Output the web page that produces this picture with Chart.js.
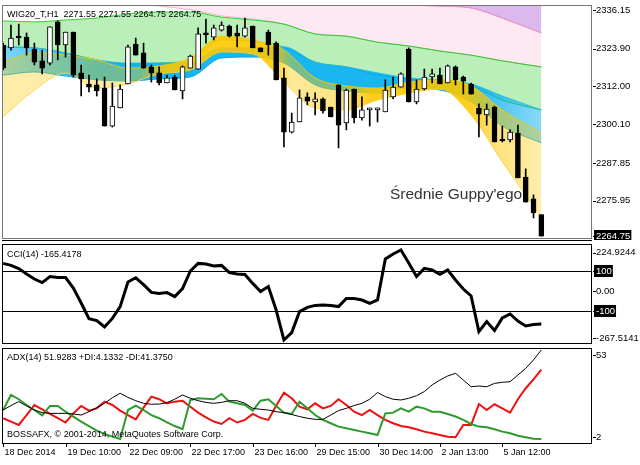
<!DOCTYPE html>
<html>
<head>
<meta charset="utf-8">
<script src="https://cdn.jsdelivr.net/npm/chart.js@4.4.0/dist/chart.umd.min.js"></script>
<style>
  html, body { margin: 0; padding: 0; background: #fff; }
  #wrap { position: relative; width: 640px; height: 465px; overflow: hidden; background: #fff; }
  canvas { position: absolute; left: 0; }
</style>
</head>
<body>
<div id="wrap">
  <canvas id="mainChart" width="640" height="240" style="top:0px"></canvas>
  <canvas id="cciChart" width="640" height="105" style="top:240px"></canvas>
  <canvas id="adxChart" width="640" height="120" style="top:345px"></canvas>
</div>
<script>
// WIG20_T H1, 18 Dec 2014 - 5 Jan 2015 (one value per hourly bar)
const opens  = [2325.1,2324.2,2327.9,2327.6,2323.8,2320.1,2319.4,2332.4,2325.1,2329.2,2316.3,2312.8,2312.5,2311.5,2299.5,2305.2,2312.8,2325.4,2322.6,2318.2,2316.3,2313.1,2315.0,2310.6,2317.8,2317.5,2328.9,2327.6,2329.8,2331.1,2328.9,2327.9,2331.1,2324.2,2329.2,2325.7,2314.7,2297.6,2300.8,2308.7,2307.1,2308.1,2305.5,2312.5,2300.5,2311.2,2302.1,2304.6,2304.6,2304.0,2308.7,2311.8,2323.8,2307.1,2311.2,2315.0,2315.6,2313.1,2318.2,2315.0,2312.8,2305.2,2303.0,2305.5,2295.1,2295.1,2297.3,2283.4,2276.5,2271.55];
const highs  = [2325.7,2331.4,2331.7,2328.9,2325.7,2323.5,2330.8,2332.7,2329.2,2329.2,2318.8,2315.6,2314.4,2315.0,2313.1,2312.5,2325.1,2327.3,2325.7,2318.8,2318.2,2315.6,2315.6,2318.5,2321.9,2330.5,2333.3,2331.4,2332.4,2331.4,2331.4,2333.6,2331.1,2324.2,2329.8,2326.1,2317.8,2303.6,2310.9,2310.0,2310.0,2308.4,2305.5,2312.5,2311.2,2311.2,2308.7,2305.2,2305.2,2314.1,2315.0,2316.3,2324.2,2314.1,2317.5,2317.5,2317.8,2318.8,2318.5,2315.3,2313.1,2306.5,2306.5,2305.8,2299.5,2298.3,2299.8,2286.0,2277.8,2271.55];
const lows   = [2317.2,2323.5,2325.1,2321.9,2318.8,2316.0,2318.8,2320.4,2321.3,2315.0,2309.0,2310.3,2309.0,2299.5,2299.2,2305.2,2312.8,2321.9,2317.8,2313.4,2312.5,2313.1,2310.9,2308.1,2317.8,2317.5,2325.7,2326.7,2329.5,2327.6,2324.5,2327.6,2324.2,2322.9,2321.9,2314.1,2292.9,2297.3,2300.8,2306.2,2303.0,2303.6,2302.4,2292.6,2298.3,2300.5,2301.4,2299.5,2300.8,2304.0,2308.1,2311.8,2307.1,2306.5,2310.9,2313.1,2312.8,2313.1,2312.5,2309.6,2309.6,2296.1,2299.8,2294.5,2294.5,2294.5,2283.1,2275.5,2270.5,2264.75];
const closes = [2317.8,2327.3,2327.3,2324.2,2319.7,2317.8,2330.8,2325.1,2329.2,2315.6,2314.4,2311.8,2310.6,2299.5,2305.8,2311.2,2324.5,2321.9,2317.8,2316.3,2313.1,2314.7,2310.9,2318.2,2321.6,2328.6,2328.3,2330.5,2331.4,2327.9,2327.9,2330.5,2324.2,2322.9,2325.1,2314.1,2297.6,2300.8,2308.4,2307.4,2308.1,2304.3,2302.4,2299.8,2310.9,2302.1,2304.6,2305.2,2305.2,2310.9,2311.8,2316.0,2307.1,2311.2,2315.0,2316.0,2312.8,2318.5,2314.1,2313.7,2309.6,2303.3,2304.9,2294.5,2294.8,2297.6,2283.1,2275.5,2272.1,2264.75];

// Guppy bands: edges of each colour group, read at these bars
const guppyX       = [0,4,8,12,16,20,24,28,32,36,40,44,48,52,56,60,64,69];
const yellowTop    = [2319.7,2322.6,2321.9,2320.4,2317.8,2318.5,2321.0,2327.9,2326.7,2323.5,2314.7,2312.2,2311.5,2313.4,2314.1,2312.2,2304.6,2297.3];
const yellowBottom = [2302.4,2310.9,2316.3,2311.5,2312.8,2316.0,2317.2,2322.9,2322.3,2313.4,2305.2,2304.6,2307.7,2309.9,2311.2,2303.0,2288.2,2270.8];
const cyanTop      = [2324.5,2324.2,2322.6,2320.4,2319.4,2319.4,2319.7,2324.2,2324.2,2324.5,2319.7,2318.2,2316.3,2314.7,2314.1,2312.8,2309.0,2304.6];
const cyanBottom   = [2315.6,2316.6,2315.3,2314.1,2313.7,2314.4,2315.0,2321.0,2321.3,2319.4,2312.5,2310.6,2309.9,2311.5,2310.9,2307.1,2299.5,2294.2];
const greenTop     = [2332.7,2332.4,2333.0,2333.6,2334.9,2335.5,2335.5,2333.9,2333.0,2331.7,2328.6,2327.9,2326.0,2324.8,2323.2,2321.9,2320.1,2318.2];
const greenBottom  = [2324.5,2324.2,2322.6,2320.4,2319.1,2319.4,2320.4,2326.7,2326.1,2324.5,2319.7,2318.2,2315.6,2314.4,2313.7,2312.2,2307.7,2304.6];
const pinkTop      = [2348.8,2348.8,2348.8,2348.8,2348.8,2347.2,2345.6,2345.6,2344.0,2344.0,2342.5,2342.5,2340.9,2338.0,2337.4,2336.8,2333.6,2328.9];
const pinkBottom   = [2339.3,2339.3,2339.0,2338.7,2338.0,2337.4,2336.2,2334.3,2333.3,2331.7,2328.6,2327.9,2326.0,2324.8,2323.2,2321.9,2320.1,2318.2];

const cci = [138,128,112,85,60,42,72,67,67,15,-60,-138,-148,-180,-137,-78,45,66,32,-7,-12,-8,-28,12,100,138,135,125,128,92,85,83,38,-3,22,-95,-245,-208,-103,-82,-72,-70,-72,-78,-37,-38,-45,-62,-45,160,185,205,140,72,113,105,83,105,55,10,-25,-203,-153,-198,-135,-115,-150,-175,-168,-165.4178];
const cciLevels = [100, -100];

const adx     = [19.7,22.1,24.2,21.9,19.7,18.3,17.9,17.9,17.9,17.6,17.0,18.8,21.0,23.3,26.3,28.7,26.5,24.7,23.3,22.8,22.9,23.7,25.5,27.8,26.0,24.7,23.8,23.3,23.8,24.7,24.7,23.3,20.6,20.1,19.7,18.8,18.3,17.3,16.2,15.3,14.7,14.7,17.0,19.4,20.6,22.1,23.3,25.5,29.1,26.9,25.5,25.1,26.0,27.4,29.6,33.2,35.8,38.0,39.4,35.8,32.2,32.6,32.2,34.0,34.6,34.9,38.5,42.1,46.6,51.9283];
const plusDI  = [19.7,27.8,25.5,22.4,19.7,16.8,21.9,21.9,18.8,16.2,13.5,11.1,8.6,6.9,5.4,4.2,19.7,22.1,19.7,17.0,15.3,13.1,11.1,9.4,25.1,26.0,25.8,25.5,28.3,24.2,23.3,22.4,19.4,24.7,25.5,21.9,18.3,17.6,24.2,20.6,17.0,14.4,12.6,10.8,9.9,9.0,8.1,7.2,6.3,17.9,18.3,20.6,18.8,21.5,20.6,18.8,18.8,17.6,16.2,14.4,12.2,10.8,10.4,9.4,8.1,7.2,5.9,5.1,4.3,4.1332];
const minusDI = [15.3,13.5,11.7,17.0,22.4,20.1,17.6,15.3,13.0,17.9,21.9,19.4,20.6,24.2,22.4,19.4,17.0,14.7,21.0,26.9,25.5,23.3,24.2,24.7,21.5,18.3,15.8,13.5,12.2,15.3,13.0,14.4,17.6,15.5,14.4,22.0,29.0,26.0,21.5,20.1,23.3,20.6,21.9,25.5,22.4,18.8,17.0,19.7,17.0,14.4,12.6,11.1,10.4,9.4,8.1,7.2,6.3,5.4,5.1,11.7,11.7,22.9,19.7,22.8,20.6,18.3,25.5,31.4,36.2,41.375];

const timeTickBars   = [0, 8, 16, 24, 32, 40, 48, 56, 64];
const timeTickLabels = ['18 Dec 2014','19 Dec 10:00','22 Dec 09:00','22 Dec 17:00','23 Dec 16:00','29 Dec 15:00','30 Dec 14:00','2 Jan 13:00','5 Jan 12:00'];
const priceTicks     = [2336.15, 2323.90, 2312.00, 2300.10, 2287.85, 2275.95];
const lastPrice = 2264.75;

const FONT = '"Liberation Sans", Arial, sans-serif';
const xScale = { type: 'linear', min: -0.15, max: 75.5, display: false, offset: false };

// band shading: denser where the averages bunch up, paler where they fan out
const mainCtx = document.getElementById('mainChart').getContext('2d');
function shade(rgb, stops) {
    const g = mainCtx.createLinearGradient(0, 0, 640, 0);
    stops.forEach(([x, a]) => g.addColorStop(x / 640, `rgba(${rgb},${a})`));
    return g;
}

function rightLabel(ctx, y, text, boxed) {
    ctx.strokeStyle = '#000';
    ctx.beginPath();
    ctx.moveTo(593, Math.round(y) + 0.5);
    ctx.lineTo(596, Math.round(y) + 0.5);
    ctx.stroke();
    if (boxed) {
        const w = ctx.measureText(text).width + 3;
        ctx.fillStyle = '#000';
        ctx.fillRect(594, Math.round(y) - 6, w, 12);
        ctx.fillStyle = '#fff';
    } else {
        ctx.fillStyle = '#000';
    }
    ctx.fillText(text, 596, y);
}

function frame(ctx, a, color) {
    ctx.strokeStyle = color;
    ctx.lineWidth = 1;
    ctx.strokeRect(a.left + 0.5, a.top + 0.5, a.right - a.left - 1, a.bottom - a.top);
}

const baseOptions = (padding, yMin, yMax) => ({
    responsive: false,
    animation: false,
    events: [],
    layout: { padding },
    plugins: { legend: { display: false }, tooltip: { enabled: false } },
    scales: {
        x: xScale,
        y: { min: yMin, max: yMax, display: false }
    }
});

// ---------- main panel ----------
const bars = opens.map((o, i) => i);
const bodyColors = opens.map((o, i) => closes[i] >= o ? '#ffffff' : '#000000');

function guppyLine(values, color, fill, fillColor) {
    return {
        type: 'line',
        data: guppyX.map((x, k) => ({ x, y: values[k] })),
        borderColor: color,
        borderWidth: 1,
        pointRadius: 0,
        cubicInterpolationMode: 'monotone',
        fill: fill,
        backgroundColor: fillColor,
        order: 2
    };
}

const yellowShade = shade('252,200,0', [[0, 0.35], [60, 0.33], [140, 0.38], [165, 0.9], [270, 0.9], [292, 0.4], [345, 0.5], [370, 0.9], [465, 0.9], [500, 0.5], [545, 0.3]]);
const cyanShade   = shade('0,174,239', [[0, 0.5], [60, 0.75], [100, 0.9], [470, 0.9], [505, 0.65], [545, 0.45]]);

new Chart(mainCtx, {
    type: 'bar',
    data: {
        datasets: [
            {
                label: 'bodies',
                data: bars.map(i => ({ x: i, y: [opens[i], closes[i]] })),
                backgroundColor: bodyColors,
                borderColor: '#000',
                borderWidth: 1,
                borderSkipped: false,
                barThickness: 5,
                minBarLength: 2,
                grouped: false,
                order: 0
            },
            {
                label: 'wicks',
                data: bars.map(i => ({ x: i, y: [lows[i], highs[i]] })),
                backgroundColor: '#000',
                borderWidth: 0,
                barThickness: 1,
                grouped: false,
                order: 1
            },
            guppyLine(yellowTop, 'rgba(252,200,0,0.9)', '+1', yellowShade),
            guppyLine(yellowBottom, 'rgba(252,214,90,0.9)', false, 'transparent'),
            guppyLine(cyanTop, 'rgba(40,182,240,0.9)', '+1', cyanShade),
            guppyLine(cyanBottom, 'rgba(0,170,238,1)', false, 'transparent'),
            guppyLine(greenTop, 'rgba(20,200,20,0.85)', '+1', 'rgba(40,205,40,0.32)'),
            guppyLine(greenBottom, 'rgba(20,200,20,0.85)', false, 'transparent'),
            guppyLine(pinkTop, 'rgba(245,160,200,0.8)', '+1', 'rgba(250,165,200,0.25)'),
            guppyLine(pinkBottom, 'rgba(245,160,200,0.8)', false, 'transparent'),
            guppyLine(pinkTop, 'rgba(175,85,210,0.8)', 'end', 'rgba(175,85,210,0.42)')
        ]
    },
    options: baseOptions({ left: 2, right: 48, top: 5, bottom: 2 }, 2264.17, 2337.73),
    plugins: [{
        id: 'mainDecor',
        afterDraw(chart) {
            const { ctx, chartArea: a, scales } = chart;
            ctx.save();
            frame(ctx, a, '#777');
            ctx.font = '9.5px ' + FONT;
            ctx.textBaseline = 'middle';
            ctx.textAlign = 'left';
            priceTicks.forEach(p => rightLabel(ctx, scales.y.getPixelForValue(p), p.toFixed(2), false));
            rightLabel(ctx, scales.y.getPixelForValue(lastPrice), lastPrice.toFixed(2), true);
            ctx.fillStyle = '#000';
            ctx.font = '9px ' + FONT;
            ctx.fillText('WIG20_T,H1  2271.55 2271.55 2264.75 2264.75', 7, 15);
            ctx.fillStyle = '#333';
            ctx.font = '15.5px ' + FONT;
            ctx.textBaseline = 'alphabetic';
            ctx.fillText("Średnie Guppy'ego", 390, 199);
            ctx.restore();
        }
    }]
});

// ---------- CCI panel ----------
new Chart(document.getElementById('cciChart'), {
    type: 'line',
    data: {
        datasets: [{
            data: cci.map((v, i) => ({ x: i, y: v })),
            borderColor: '#000',
            borderWidth: 3,
            pointRadius: 0,
            tension: 0
        }]
    },
    options: baseOptions({ left: 2, right: 48, top: 4, bottom: 2 }, -260, 235),
    plugins: [{
        id: 'cciDecor',
        beforeDatasetsDraw(chart) {
            const { ctx, chartArea: a, scales } = chart;
            ctx.save();
            ctx.strokeStyle = '#000';
            ctx.lineWidth = 1;
            cciLevels.forEach(l => {
                const y = Math.round(scales.y.getPixelForValue(l)) + 0.5;
                ctx.beginPath();
                ctx.moveTo(a.left, y);
                ctx.lineTo(a.right, y);
                ctx.stroke();
            });
            ctx.restore();
        },
        afterDraw(chart) {
            const { ctx, chartArea: a, scales } = chart;
            ctx.save();
            ctx.strokeStyle = '#000';
            ctx.beginPath();
            ctx.moveTo(2, 0.5);
            ctx.lineTo(592, 0.5);
            ctx.stroke();
            frame(ctx, a, '#000');
            ctx.font = '9.5px ' + FONT;
            ctx.textBaseline = 'middle';
            rightLabel(ctx, a.top + 8.5, '224.9244', false);
            rightLabel(ctx, scales.y.getPixelForValue(100), '100', true);
            rightLabel(ctx, scales.y.getPixelForValue(0), '0.00', false);
            rightLabel(ctx, scales.y.getPixelForValue(-100), '-100', true);
            rightLabel(ctx, a.bottom - 5, '-267.5141', false);
            ctx.fillStyle = '#000';
            ctx.font = '9px ' + FONT;
            ctx.fillText('CCI(14) -165.4178', 7, 15);
            ctx.restore();
        }
    }]
});

// ---------- ADX panel ----------
new Chart(document.getElementById('adxChart'), {
    type: 'line',
    data: {
        datasets: [
            { data: adx.map((v, i) => ({ x: i, y: v })), borderColor: '#000', borderWidth: 1, pointRadius: 0, tension: 0 },
            { data: plusDI.map((v, i) => ({ x: i, y: v })), borderColor: '#2e9a2e', borderWidth: 2, pointRadius: 0, tension: 0 },
            { data: minusDI.map((v, i) => ({ x: i, y: v })), borderColor: '#f01010', borderWidth: 2, pointRadius: 0, tension: 0 }
        ]
    },
    options: baseOptions({ left: 2, right: 48, top: 3, bottom: 22 }, 2, 53),
    plugins: [{
        id: 'adxDecor',
        afterDraw(chart) {
            const { ctx, chartArea: a, scales } = chart;
            ctx.save();
            frame(ctx, a, '#000');
            ctx.font = '9.5px ' + FONT;
            ctx.textBaseline = 'middle';
            rightLabel(ctx, a.top + 7, '53', false);
            rightLabel(ctx, a.bottom - 6, '2', false);
            ctx.fillStyle = '#000';
            ctx.font = '9px ' + FONT;
            ctx.fillText('ADX(14) 51.9283 +DI:4.1332 -DI:41.3750', 7, 13);
            ctx.fillText('BOSSAFX, \u00a9 2001-2014, MetaQuotes Software Corp.', 7, 90);
            ctx.strokeStyle = '#000';
            timeTickBars.forEach((b, k) => {
                const x = Math.round(scales.x.getPixelForValue(b)) + 0.5;
                ctx.beginPath();
                ctx.moveTo(x, a.bottom);
                ctx.lineTo(x, a.bottom + 4);
                ctx.stroke();
                ctx.fillText(timeTickLabels[k], x + 1, a.bottom + 10);
            });
            ctx.restore();
        }
    }]
});
</script>
</body>
</html>
